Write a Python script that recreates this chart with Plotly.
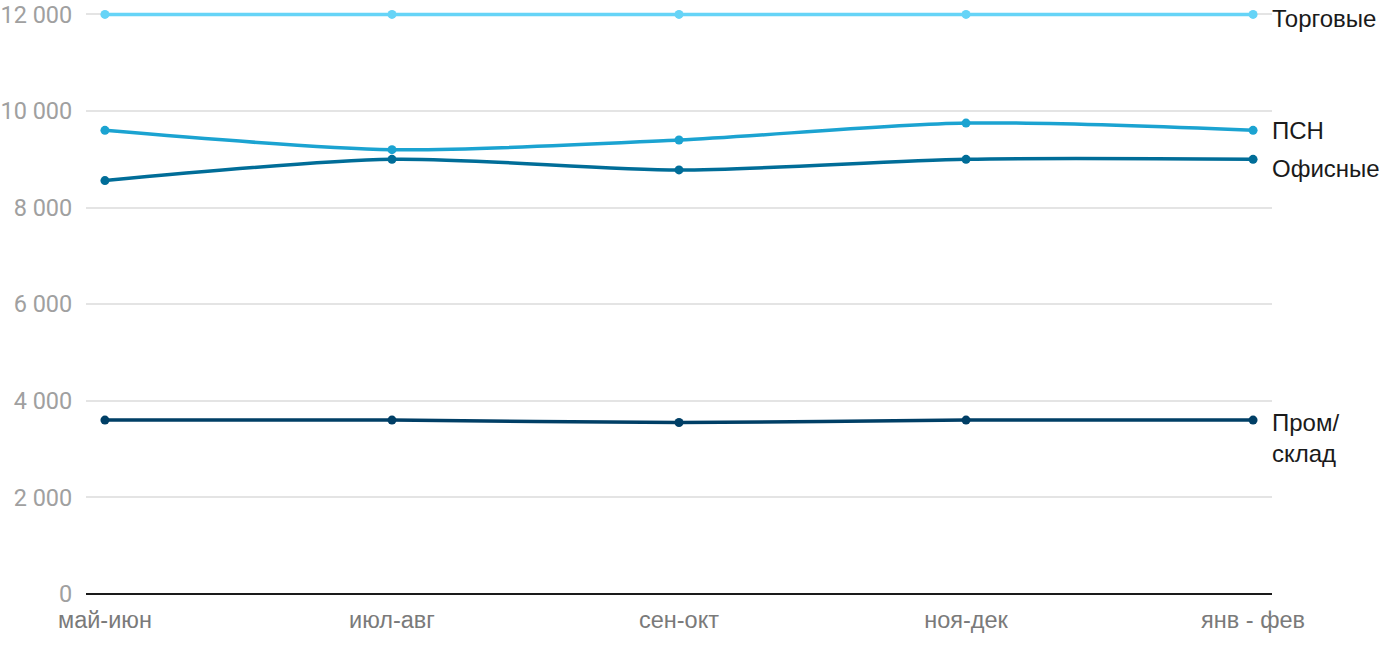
import plotly.graph_objects as go

categories = ["май-июн", "июл-авг", "сен-окт", "ноя-дек", "янв - фев"]
series_names = ["Торговые", "ПСН", "Офисные", "Пром/<br>склад"]
torg = [12000, 12000, 12000, 12000, 12000]
psn = [9600, 9200, 9400, 9750, 9600]
office = [8560, 9000, 8780, 9000, 9000]
prom = [3600, 3600, 3550, 3600, 3600]
y_ticks = [0, 2000, 4000, 6000, 8000, 10000, 12000]

colors = ["#66d4f7", "#1ba3d1", "#006d98", "#003f66"]
label_shift = [-4, 0, -9, -14]

fig = go.Figure()
all_series = [torg, psn, office, prom]
for name, vals, col in zip(series_names, all_series, colors):
    fig.add_trace(go.Scatter(
        x=categories, y=vals, mode="lines+markers",
        line=dict(color=col, width=3.5, shape="spline", smoothing=0.8),
        marker=dict(color=col, size=9),
        name=name, showlegend=False, cliponaxis=False,
    ))

for name, vals, sh in zip(series_names, all_series, label_shift):
    multi = "<br>" in name
    fig.add_annotation(
        x=categories[-1], y=vals[-1], text=name, showarrow=False,
        xanchor="left", yanchor="top" if multi else "middle",
        xshift=17, yshift=13 if multi else sh,
        align="left",
        font=dict(family="Liberation Sans, Arial", size=24, color="#1a1a1a"),
    )

fig.update_layout(
    width=1400, height=650,
    margin=dict(l=86, r=128, t=12, b=56),
    plot_bgcolor="white", paper_bgcolor="white",
    separators=", ",
    hovermode=False,
    xaxis=dict(
        type="category", range=[-0.066, 4.066], automargin=False,
        showgrid=False, showline=False, zeroline=False,
        ticks="outside", ticklen=5, tickcolor="rgba(0,0,0,0)",
        tickfont=dict(family="Liberation Sans, Arial", size=23.5, color="#7a7a7a"),
    ),
    yaxis=dict(
        range=[0, 12050], tickvals=y_ticks, tickformat=",d", automargin=False,
        showgrid=True, gridcolor="#e4e4e4", gridwidth=1.5,
        zeroline=True, zerolinecolor="#1a1a1a", zerolinewidth=2,
        ticks="outside", ticklen=8, tickcolor="rgba(0,0,0,0)",
        tickfont=dict(family="Roboto", size=23.5, color="#a0a0a0"),
    ),
)

fig.write_html(
    "out.html",
    config={"displayModeBar": False},
    post_script="document.body.style.margin='0';document.body.style.overflow='hidden';",
)
